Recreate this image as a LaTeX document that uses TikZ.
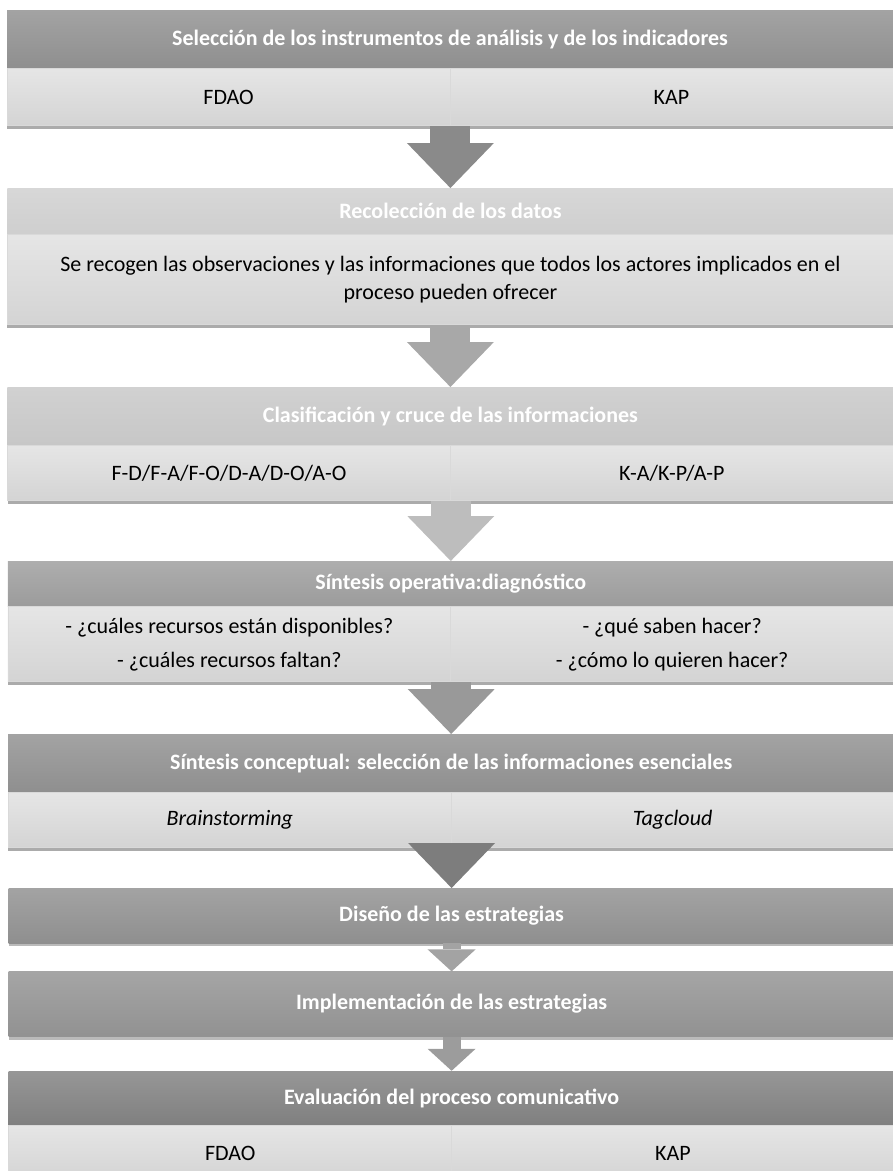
\documentclass[tikz,border=0pt]{standalone}
\usepackage{fontspec}
\setmainfont{Carlito}
\usetikzlibrary{positioning, arrows.meta, shadows}
\tikzset{ hdr/.style = {top color=#1!white!82!white, bottom color=#1, text=white, font=\fontsize{22}{27}\selectfont\bfseries, minimum width=886pt, inner sep=0pt, drop shadow={shadow xshift=0pt, shadow yshift=-3pt, fill=black!45, opacity=0.6}},
  cell/.style = {top color=black!10, bottom color=black!17, draw=white!85!black, line width=0.6pt, font=\fontsize{22}{28}\selectfont, minimum width=443pt, inner sep=0pt, drop shadow={shadow xshift=0pt, shadow yshift=-3pt, fill=black!55, opacity=0.6}},
  flow/.style = {draw=#1, line width=40pt, -{Triangle[width=87pt, length=45pt, line width=0pt]}},
  flowsmall/.style = {draw=#1, line width=18pt, -{Triangle[width=48pt, length=22pt, line width=0pt]}} }

\begin{document}
\begin{tikzpicture}[x=1pt, y=-1pt]
  \useasboundingbox (0,0) rectangle (893,1171);

  % step 1
  \node[hdr=black!44, minimum height=58pt, anchor=north] (sel) at (450,10) {Selección de los instrumentos de análisis y de los indicadores};
  \node[cell, minimum height=57pt, below right=0pt and 0pt of sel.south west] (selA) {FDAO};
  \node[cell, minimum height=57pt, below left=0pt and 0pt of sel.south east] (selB) {KAP};

  % step 2
  \node[hdr=black!19, minimum height=46pt, below=62pt of selA.south east] (rec) {Recolección de los datos};
  \node[cell, minimum width=886pt, minimum height=90pt, align=center, below=0pt of rec] (recT) {Se recogen las observaciones y las informaciones que todos los actores implicados en el\\proceso pueden ofrecer};

  % step 3
  \node[hdr=black!22, minimum height=58pt, below=62pt of recT] (cla) {Clasificación y cruce de las informaciones};
  \node[cell, minimum height=55pt, below right=0pt and 0pt of cla.south west] (claA) {F-D/F-A/F-O/D-A/D-O/A-O};
  \node[cell, minimum height=55pt, below left=0pt and 0pt of cla.south east] (claB) {K-A/K-P/A-P};

  % step 4
  \node[hdr=black!39, minimum height=45pt, below=60pt of claA.south east] (sop) {Síntesis operativa:diagnóstico};
  \node[cell, minimum height=75pt, align=center, below right=0pt and 0pt of sop.south west] (sopA) {- ¿cuáles recursos están disponibles?\\[6pt]- ¿cuáles recursos faltan?};
  \node[cell, minimum height=75pt, align=center, below left=0pt and 0pt of sop.south east] (sopB) {- ¿qué saben hacer?\\[6pt]- ¿cómo lo quieren hacer?};

  % step 5
  \node[hdr=black!44, minimum height=58pt, below=52pt of sopA.south east] (sco) {Síntesis conceptual: selección de las informaciones esenciales};
  \node[cell, minimum height=55pt, below right=0pt and 0pt of sco.south west] (scoA) {\itshape Brainstorming};
  \node[cell, minimum height=55pt, below left=0pt and 0pt of sco.south east] (scoB) {\itshape Tagcloud};

  % steps 6 to 8
  \node[hdr=black!44, minimum height=55pt, below=40pt of scoA.south east] (dis) {Diseño de las estrategias};
  \node[hdr=black!43, minimum height=65pt, below=28pt of dis] (imp) {Implementación de las estrategias};
  \node[hdr=black!50, minimum height=54pt, below=34pt of imp] (eva) {Evaluación del proceso comunicativo};
  \node[cell, minimum height=55pt, below right=0pt and 0pt of eva.south west] (evaA) {FDAO};
  \node[cell, minimum height=55pt, below left=0pt and 0pt of eva.south east] (evaB) {KAP};

  % arrows
  \draw[flow=black!46] (selA.south east) -- (rec.north);
  \draw[flow=black!34] (recT.south) -- (cla.north);
  \draw[flow=black!26] (claA.south east) -- (sop.north);
  \draw[flow=black!40] (sopA.south east) -- (sco.north);
  \draw[flow=black!51] (scoA.south east) -- (dis.north);
  \draw[flowsmall=black!36] (dis.south) -- (imp.north);
  \draw[flowsmall=black!39] (imp.south) -- (eva.north);
\end{tikzpicture}
\end{document}
